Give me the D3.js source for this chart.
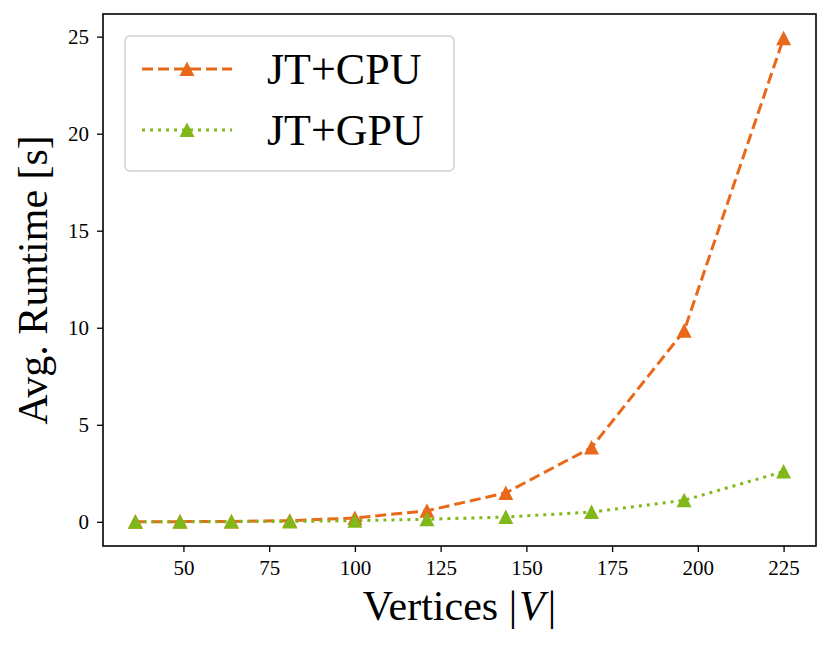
<!DOCTYPE html>
<html>
<head>
<meta charset="utf-8">
<script src="https://cdn.jsdelivr.net/npm/d3@7"></script>
<style>
  body { margin: 0; background: #fff; }
  text { font-family: "Liberation Serif", "DejaVu Serif", serif; }
</style>
</head>
<body>
<div id="chart"></div>
<script>
// data
var vertices = [36, 49, 64, 81, 100, 121, 144, 169, 196, 225];
var cpuRuntime = [0.0, 0.01, 0.02, 0.06, 0.2, 0.57, 1.49, 3.83, 9.84, 24.92];
var gpuRuntime = [0.0, 0.0, 0.01, 0.02, 0.06, 0.13, 0.25, 0.5, 1.11, 2.59];
var xTicks = [50, 75, 100, 125, 150, 175, 200, 225];
var yTicks = [0, 5, 10, 15, 20, 25];
var seriesNames = ["JT+CPU", "JT+GPU"];

var W = 831, H = 647;
var margin = {top: 14, right: 15, bottom: 101, left: 103};
var width = W - margin.left - margin.right,
    height = H - margin.top - margin.bottom;

var orange = "#e8691a", green = "#80b81a";

var series = [
  {name: seriesNames[0], values: cpuRuntime, color: orange, dash: "11,5"},
  {name: seriesNames[1], values: gpuRuntime, color: green, dash: "3,5"}
];

var svg = d3.select("#chart").append("svg")
  .attr("width", W).attr("height", H);

var g = svg.append("g")
  .attr("transform", "translate(" + margin.left + "," + margin.top + ")");

// matplotlib style 5% margins
var xPad = (d3.max(vertices) - d3.min(vertices)) * 0.05;
var x = d3.scaleLinear()
  .domain([d3.min(vertices) - xPad, d3.max(vertices) + xPad])
  .range([0, width]);
var yMax = d3.max(cpuRuntime);
var y = d3.scaleLinear()
  .domain([-yMax * 0.05, yMax * 1.05])
  .range([height, 0]);

var triangle = "M0,-7.5L7.5,7L-7.5,7Z";

var line = d3.line()
  .x(function(d, i) { return x(vertices[i]); })
  .y(function(d) { return y(d); });

series.forEach(function(s) {
  g.append("path")
    .attr("d", line(s.values))
    .attr("fill", "none")
    .attr("stroke", s.color)
    .attr("stroke-width", 3)
    .attr("stroke-dasharray", s.dash);
});
series.forEach(function(s) {
  g.selectAll(null)
    .data(s.values)
    .enter().append("path")
    .attr("d", triangle)
    .attr("fill", s.color)
    .attr("transform", function(d, i) {
      return "translate(" + x(vertices[i]) + "," + y(d) + ")";
    });
});

// axes
var xAxis = g.append("g")
  .attr("transform", "translate(0," + height + ")")
  .call(d3.axisBottom(x).tickValues(xTicks).tickSize(6).tickPadding(8).tickFormat(d3.format("d")));
var yAxis = g.append("g")
  .call(d3.axisLeft(y).tickValues(yTicks).tickSize(6).tickPadding(8).tickFormat(d3.format("d")));

[xAxis, yAxis].forEach(function(a) {
  a.select(".domain").remove();
  a.selectAll(".tick line").attr("stroke", "#000").attr("stroke-width", 1.3);
  a.selectAll(".tick text")
    .attr("fill", "#000")
    .style("font-family", "'Liberation Serif', serif")
    .style("font-size", "21px");
});
yAxis.selectAll(".tick text").attr("dy", "0.34em");

g.append("rect")
  .attr("width", width).attr("height", height)
  .attr("fill", "none")
  .attr("stroke", "#000")
  .attr("stroke-width", 1.6);

// axis labels
svg.append("text")
  .attr("x", margin.left + width / 2)
  .attr("y", 620)
  .attr("text-anchor", "middle")
  .style("font-size", "42px")
  .html("Vertices |<tspan font-style='italic' dx='2'>V</tspan><tspan dx='3'>|</tspan>");

svg.append("text")
  .attr("transform", "translate(47," + (margin.top + height / 2) + ") rotate(-90)")
  .attr("text-anchor", "middle")
  .style("font-size", "42px")
  .text("Avg. Runtime [s]");

// legend
var legend = svg.append("g").attr("transform", "translate(125,36)");
legend.append("rect")
  .attr("width", 329).attr("height", 135)
  .attr("rx", 5).attr("ry", 5)
  .attr("fill", "rgba(255,255,255,0.8)")
  .attr("stroke", "#d0d0d0")
  .attr("stroke-width", 1.5);

series.forEach(function(s, i) {
  var ly = 33 + i * 61;
  legend.append("line")
    .attr("x1", 17).attr("x2", 107)
    .attr("y1", ly).attr("y2", ly)
    .attr("stroke", s.color)
    .attr("stroke-width", 3)
    .attr("stroke-dasharray", s.dash);
  legend.append("path")
    .attr("d", triangle)
    .attr("fill", s.color)
    .attr("transform", "translate(62," + ly + ")");
  legend.append("text")
    .attr("x", 142)
    .attr("y", ly + 15)
    .style("font-size", "44px")
    .text(s.name);
});
</script>
</body>
</html>
